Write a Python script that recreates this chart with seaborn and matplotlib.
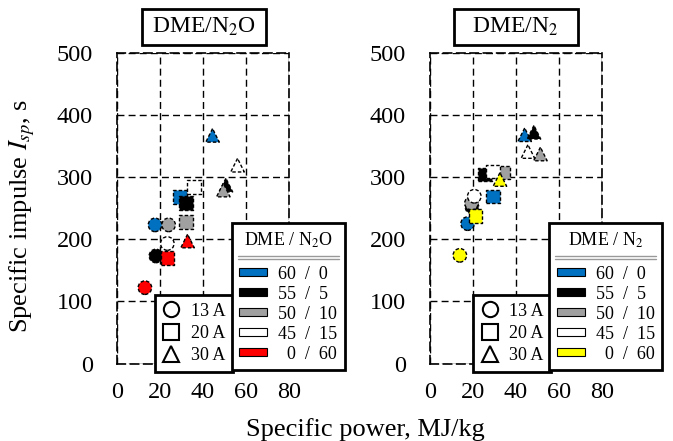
"""
Specific impulse vs specific power for DME/N2O and DME/N2 mixtures
"""

import matplotlib.pyplot as plt
import matplotlib.lines as mlines
import matplotlib.patches as mpatches
import pandas as pd
import seaborn as sns

# mixture ratios (DME / oxidiser or nitrogen) and arc currents
mixes = ["60/0", "55/5", "50/10", "45/15", "0/60"]
mix_labels = ["60  /  0", "55  /  5", "50  /  10", "45  /  15", "  0  /  60"]
currents = ["13 A", "20 A", "30 A"]

# DME/N2O, ordered by current then by mix
n2o_power = [17.8, 18.2, 24.1, 23.5, 13.1,
             29.4, 32.2, 32.2, 35.9, 23.5,
             44.5, 50.7, 49.5, 56.1, 32.9]
n2o_isp = [223, 173, 223, 193, 122,
           268, 258, 228, 284, 170,
           367, 287, 279, 319, 197]

# DME/N2, same order
n2_power = [17.6, 19.6, 19.4, 20.7, 14.0,
            29.4, 25.6, 34.1, 29.4, 21.3,
            44.1, 48.4, 51.4, 45.6, 32.6]
n2_isp = [225, 252, 258, 269, 174,
          269, 304, 307, 309, 237,
          368, 372, 337, 341, 296]

mix_col = mixes * 3
current_col = [c for c in currents for _ in mixes]

df_n2o = pd.DataFrame({"power": n2o_power, "isp": n2o_isp, "mix": mix_col, "current": current_col})
df_n2 = pd.DataFrame({"power": n2_power, "isp": n2_isp, "mix": mix_col, "current": current_col})

base_colors = ["#0070C0", "black", "#A0A0A0", "white"]
pal_n2o = dict(zip(mixes, base_colors + ["#FF0000"]))
pal_n2 = dict(zip(mixes, base_colors + ["#FFFF00"]))
marker_map = {"13 A": "o", "20 A": "s", "30 A": "^"}

sns.set_theme(style="white")
plt.rcParams["font.family"] = ["Liberation Serif", "DejaVu Serif"]
plt.rcParams["mathtext.fontset"] = "stix"
plt.rcParams["text.color"] = "black"
plt.rcParams["xtick.color"] = "black"
plt.rcParams["ytick.color"] = "black"
plt.rcParams["legend.labelcolor"] = "black"
plt.rcParams["legend.framealpha"] = 1.0

fig = plt.figure(figsize=(6.73, 4.41), dpi=100)
W, H = 673, 441


def px_rect(x0, y0, x1, y1):
    # pixel box (top-left origin) -> figure fraction
    return [x0 / W, 1 - y1 / H, (x1 - x0) / W, (y1 - y0) / H]


ax1 = fig.add_axes(px_rect(116.7, 52.7, 289, 363.5))
ax2 = fig.add_axes(px_rect(429.7, 52.7, 602, 363.5))

dash = (0, (5, 3))
panels = [
    (ax1, df_n2o, pal_n2o, "DME / N$_2$O", 203.8, "DME/N$_2$O", 231.7, 155),
    (ax2, df_n2, pal_n2, "DME / N$_2$", 515.5, "DME/N$_2$", 549.3, 473.3),
]

legends = []
for ax, df, pal, leg_title, title_x, title, leg_x, mk_x in panels:
    sns.scatterplot(data=df, x="power", y="isp", hue="mix", style="current",
                    palette=pal, markers=marker_map, hue_order=mixes,
                    style_order=currents, s=95, edgecolor="black",
                    linewidth=1.0, linestyle=(0, (2.5, 1.5)), legend=False,
                    ax=ax, zorder=3)
    ax.set_xlim(0, 80)
    ax.set_ylim(0, 500)
    ax.set_xticks([0, 20, 40, 60, 80])
    ax.set_yticks([0, 100, 200, 300, 400, 500])
    ax.set_xlabel("")
    ax.set_ylabel("")
    ax.tick_params(length=0, labelsize=17.5, colors="black")
    ax.tick_params(axis="x", pad=13)
    ax.tick_params(axis="y", pad=17)
    ax.grid(True, linestyle=dash, color="black", linewidth=1.0)
    ax.set_axisbelow(True)
    for sp in ax.spines.values():
        sp.set_visible(True)
        sp.set_linestyle(dash)
        sp.set_color("black")
        sp.set_linewidth(1.2)

    # title box
    fig.add_artist(mpatches.Rectangle(((title_x - 62) / W, 1 - 45 / H), 124 / W, 36 / H,
                                      transform=fig.transFigure, facecolor="white",
                                      edgecolor="black", linewidth=2))
    fig.text(title_x / W, 1 - 27 / H, title, ha="center", va="center", fontsize=17)

    # marker legend (currents)
    mk_handles = [mlines.Line2D([], [], marker=marker_map[c], linestyle="none",
                                markerfacecolor="white", markeredgecolor="black",
                                markeredgewidth=1.5, markersize=11, label=c)
                  for c in currents]
    leg1 = ax.legend(handles=mk_handles, loc="lower left",
                     bbox_to_anchor=(mk_x / W, 1 - 371.7 / H),
                     bbox_transform=fig.transFigure, borderaxespad=0,
                     fontsize=13, frameon=True, fancybox=False, handlelength=1.0,
                     handletextpad=0.6, labelspacing=0.3, borderpad=0.4)
    leg1.get_frame().set_edgecolor("black")
    leg1.get_frame().set_linewidth(2)
    ax.add_artist(leg1)

    # colour legend (mixtures)
    mix_handles = [mpatches.Patch(facecolor=pal[m], edgecolor="black", linewidth=0.8, label=l)
                   for m, l in zip(mixes, mix_labels)]
    leg2 = ax.legend(handles=mix_handles, title=leg_title, loc="upper left",
                     bbox_to_anchor=(leg_x / W, 1 - 223.3 / H),
                     bbox_transform=fig.transFigure, borderaxespad=0,
                     fontsize=13, title_fontsize=13, frameon=True, fancybox=False,
                     handlelength=1.55, handleheight=0.3, handletextpad=0.6,
                     labelspacing=0.17, borderpad=0.42)
    leg2._legend_box.sep = 11
    leg2.get_frame().set_edgecolor("black")
    leg2.get_frame().set_linewidth(2)
    legends.append(leg2)

fig.text(22 / W, 1 - 216 / H, "Specific impulse $I_{sp}$, s", rotation=90,
         ha="center", va="center", fontsize=19)
fig.text(365 / W, 1 - 430 / H, "Specific power, MJ/kg", ha="center", va="center",
         fontsize=19)

# double grey rule under each colour-legend title
fig.canvas.draw()
renderer = fig.canvas.get_renderer()
inv = fig.transFigure.inverted()
for leg in legends:
    fb = leg.get_frame().get_window_extent(renderer)
    tb = leg.get_title().get_window_extent(renderer)
    for dy in (6, 9):
        (x0, y0), (x1, _) = inv.transform([(fb.x0 + 6, tb.y0 - dy), (fb.x1 - 6, tb.y0 - dy)])
        fig.add_artist(mlines.Line2D([x0, x1], [y0, y0], transform=fig.transFigure,
                                     color="#999999", linewidth=1.0, zorder=10))

fig.savefig("out.png", dpi=100)
